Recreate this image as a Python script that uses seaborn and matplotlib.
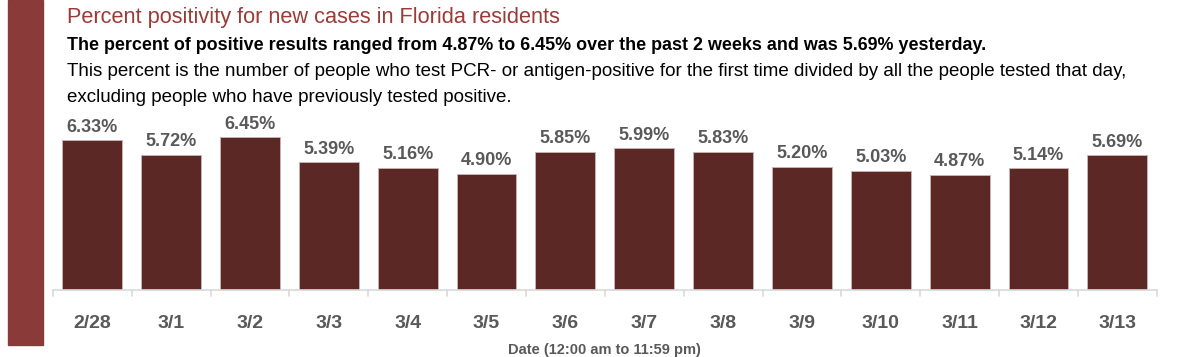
import matplotlib
matplotlib.use("Agg")
import matplotlib.pyplot as plt
import seaborn as sns
import pandas as pd
from matplotlib.patches import Rectangle

# data
dates = ["2/28", "3/1", "3/2", "3/3", "3/4", "3/5", "3/6", "3/7",
         "3/8", "3/9", "3/10", "3/11", "3/12", "3/13"]
positivity = [6.33, 5.72, 6.45, 5.39, 5.16, 4.90, 5.85, 5.99,
              5.83, 5.20, 5.03, 4.87, 5.14, 5.69]

df = pd.DataFrame({"date": dates, "pct": positivity})

sns.set_style("white")
plt.rcParams['font.family'] = ['Liberation Sans', 'DejaVu Sans']

bar_color = "#5C2825"
gray = "#595959"

fig = plt.figure(figsize=(12, 3.57), dpi=100)
ax = fig.add_axes([0.044, 0.188, 0.920, 0.49])

sns.barplot(data=df, x="date", y="pct", color=bar_color, saturation=1,
            width=0.76, edgecolor="#C9B6B4", linewidth=0.6, ax=ax)

for i, v in enumerate(positivity):
    ax.text(i, v + 0.2, f"{v:.2f}%", ha="center", va="bottom",
            fontsize=13, fontweight="bold", color=gray)

ax.set_ylim(0, 7.4)
ax.set_xlim(-0.5, len(dates) - 0.5)
ax.set_yticks([])
ax.set_ylabel("")
for s in ["top", "right", "left"]:
    ax.spines[s].set_visible(False)
ax.spines["bottom"].set_color("#D9D9D9")
ax.spines["bottom"].set_linewidth(1.2)

# ticks between categories
ax.set_xticks(range(len(dates)))
ax.set_xticklabels(dates, fontsize=14, fontweight="bold", color=gray)
ax.tick_params(axis="x", length=0, pad=18)
for b in range(len(dates) + 1):
    ax.plot([b - 0.5, b - 0.5], [0, -0.25], color="#D9D9D9", lw=1.2,
            clip_on=False)
ax.set_xlabel("Date (12:00 am to 11:59 pm)", fontsize=10.5, fontweight="bold",
              color=gray, labelpad=8)

# left accent bar
fig.patches.append(Rectangle((8 / 1200, 1 - 345 / 357), 35 / 1200, 345 / 357,
                             transform=fig.transFigure, color="#8B3A3A",
                             zorder=0))

fig.text(67 / 1200, 1 - 17 / 357, "Percent positivity for new cases in Florida residents",
         fontsize=15.7, color="#9B3B38", va="center")
fig.text(67 / 1200, 1 - 45 / 357,
         "The percent of positive results ranged from 4.87% to 6.45% over the past 2 weeks and was 5.69% yesterday.",
         fontsize=12.9, fontweight="bold", color="black", va="center")
fig.text(67 / 1200, 1 - 72 / 357,
         "This percent is the number of people who test PCR- or antigen-positive for the first time divided by all the people tested that day,",
         fontsize=13.5, color="black", va="center")
fig.text(67 / 1200, 1 - 98 / 357,
         "excluding people who have previously tested positive.",
         fontsize=13.5, color="black", va="center")

fig.savefig("out.png", dpi=100)
